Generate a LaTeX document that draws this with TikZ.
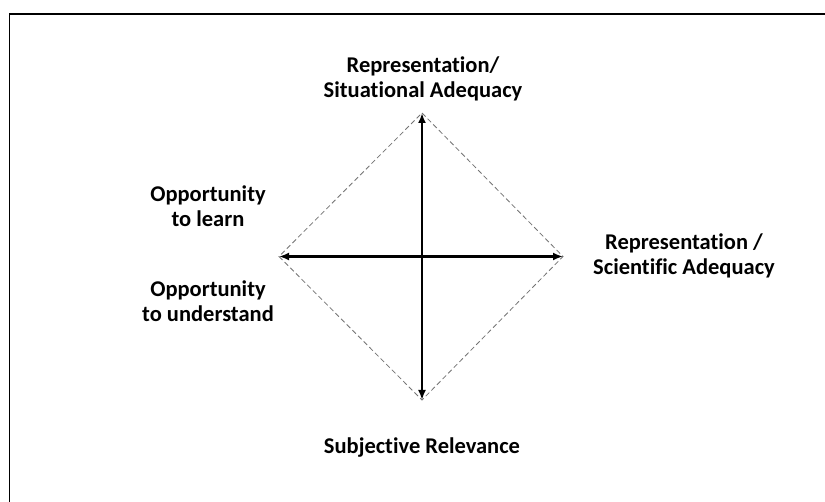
\documentclass[tikz,border=0pt]{standalone}
\usepackage{fontspec}
\setmainfont[Ligatures=NoCommon]{Carlito}
\usetikzlibrary{arrows.meta}
\begin{document}
\begin{tikzpicture}[x=1pt,y=-1pt,
  lbl/.style={font=\bfseries\fontsize{22.5}{24.5}\selectfont, align=center, inner sep=0pt, text=black},
  axis/.style={line width=2.4pt, {Latex[length=10pt,width=8pt]}-{Latex[length=10pt,width=8pt]}},
  edge/.style={draw=black!55, line width=0.8pt, dash pattern=on 5pt off 3pt}]
\useasboundingbox (0,0) rectangle (825,502);
\fill[white] (0,0) rectangle (825,502);
\draw[line width=1.3pt] (9.5,502) -- (9.5,14) -- (825,14);
\coordinate (T) at (422,113);
\coordinate (B) at (422,400);
\coordinate (L) at (279,256.5);
\coordinate (R) at (563,256.5);
\draw[edge] (T) -- (R) -- (B) -- (L) -- cycle;
\draw[axis] (B) -- (T);
\draw[axis] (L) -- (R);
\node[lbl] (top) at (423,79) {Representation/\\Situational Adequacy};
\node[lbl] (right) at (684,256) {Representation /\\Scientific Adequacy};
\node[lbl] (lu) at (208,206) {Opportunity\\to learn};
\node[lbl] (ll) at (208,301) {Opportunity\\to understand};
\node[lbl] (bot) at (422,448) {Subjective Relevance};
\end{tikzpicture}
\end{document}
